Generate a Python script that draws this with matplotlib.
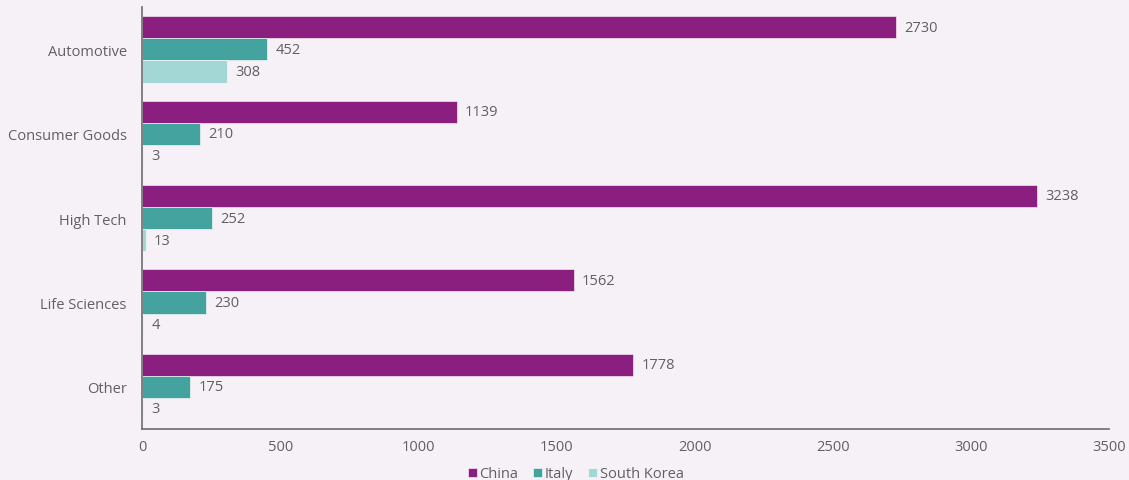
import numpy as np
import matplotlib
matplotlib.use('Agg')
import matplotlib.pyplot as plt

categories = ['Automotive', 'Consumer Goods', 'High Tech', 'Life Sciences', 'Other']
china = [2730, 1139, 3238, 1562, 1778]
italy = [452, 210, 252, 230, 175]
south_korea = [308, 3, 13, 4, 3]

series = [('China', china, '#8a1f7f'),
          ('Italy', italy, '#44a39e'),
          ('South Korea', south_korea, '#a3d7d5')]

bg = '#f6f1f7'
txt = '#606060'

plt.rcParams['font.family'] = ['Open Sans', 'DejaVu Sans']

fig = plt.figure(figsize=(11.29, 4.81), dpi=100, facecolor=bg)
ax = fig.add_axes([0.1258, 0.106, 0.8565, 0.877], facecolor=bg)

y = np.arange(len(categories))
h = 0.262
for i, (name, vals, col) in enumerate(series):
    pos = y + (i - 1) * h
    ax.barh(pos, vals, height=h, color=col, label=name, edgecolor='white', linewidth=0.4)
    for p, v in zip(pos, vals):
        ax.text(v + 30, p, str(v), va='center', ha='left', fontsize=10.5, color=txt)

ax.set_xlim(0, 3500)
ax.set_ylim(len(categories) - 0.5, -0.5)
ax.set_yticks(y)
ax.set_yticklabels(categories)
ax.set_xticks(np.arange(0, 3501, 500))
ax.tick_params(axis='both', length=0, labelsize=10.5, labelcolor=txt)
ax.tick_params(axis='x', pad=7)
ax.tick_params(axis='y', pad=11)

for s in ['top', 'right']:
    ax.spines[s].set_visible(False)
for s in ['left', 'bottom']:
    ax.spines[s].set_color('#6e6e6e')
    ax.spines[s].set_linewidth(1.2)

leg = fig.legend(loc='lower center', bbox_to_anchor=(0.51, -0.03), ncol=3, frameon=False,
                 fontsize=10.5, handlelength=0.6, handleheight=0.6, handletextpad=0.2,
                 columnspacing=1.0, labelcolor=txt)

fig.savefig('out.png', dpi=100, facecolor=bg)
